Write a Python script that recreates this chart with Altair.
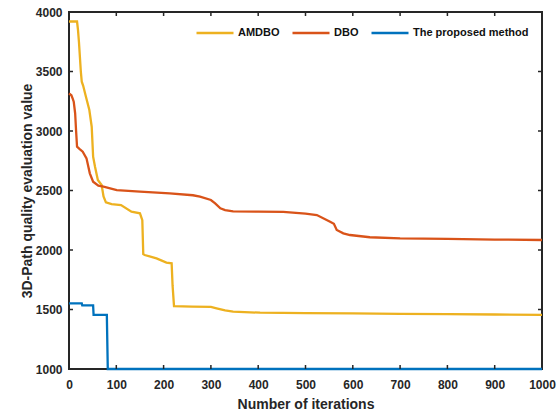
import altair as alt
import pandas as pd

# ---- data ----
amdbo_iter = [0, 17, 19, 21, 25, 27, 30, 35, 43, 48, 51, 55, 61, 69, 73, 78, 90, 110, 132, 150,
              155, 157, 160, 185, 206, 217, 219, 222, 260, 300, 312, 330, 347, 404, 500, 600,
              700, 800, 900, 1000]
amdbo_val = [3920, 3920, 3850, 3750, 3500, 3414, 3380, 3300, 3176, 3036, 2784, 2700, 2588, 2546,
             2450, 2400, 2385, 2378, 2322, 2308, 2250, 1965, 1958, 1930, 1894, 1888, 1700, 1529,
             1525, 1522, 1510, 1492, 1482, 1473, 1470, 1467, 1464, 1461, 1458, 1455]

dbo_iter = [0, 5, 8, 10, 13, 15, 17, 22, 29, 37, 44, 51, 62, 73, 101, 150, 213, 262, 277, 300,
            309, 320, 330, 347, 400, 453, 500, 524, 552, 560, 566, 580, 594, 636, 700, 800, 900, 1000]
dbo_val = [3317, 3300, 3270, 3246, 3149, 3000, 2868, 2850, 2826, 2770, 2644, 2574, 2540, 2532,
           2504, 2490, 2476, 2460, 2448, 2420, 2392, 2350, 2336, 2325, 2322, 2320, 2305, 2294,
           2238, 2220, 2168, 2140, 2126, 2107, 2098, 2094, 2088, 2084]

prop_iter = [0, 27, 28, 51, 52, 80, 82, 1000]
prop_val = [1552, 1552, 1535, 1535, 1454, 1454, 1000, 1000]

series_names = ["AMDBO", "DBO", "The proposed method"]
series_colors = ["#EDB120", "#D95319", "#0072BD"]

x_ticks = [0, 100, 200, 300, 400, 500, 600, 700, 800, 900, 1000]
y_ticks = [1000, 1500, 2000, 2500, 3000, 3500, 4000]

rows = []
for name, its, vals in zip(series_names, [amdbo_iter, dbo_iter, prop_iter],
                           [amdbo_val, dbo_val, prop_val]):
    for order, (i, v) in enumerate(zip(its, vals)):
        rows.append({"series": name, "iter": i, "value": v, "order": order})
df = pd.DataFrame(rows)

W, H = 473, 357
FONT = "Liberation Sans"
AX = "#262626"

xs = alt.Scale(domain=[0, 1000], nice=False)
ys = alt.Scale(domain=[1000, 4000], nice=False)

x_axis = alt.Axis(values=x_ticks, format="d", title="Number of iterations", grid=False,
                  domain=False, ticks=False, labelPadding=10, labelFontSize=12, labelFont=FONT,
                  labelFontWeight="bold", labelColor=AX, titleFont=FONT, titleFontSize=14,
                  titleFontWeight="bold", titleColor=AX, titlePadding=7, labelFlush=False)
y_axis = alt.Axis(values=y_ticks, format="d", title="3D-Path quality evaluation value",
                  grid=False, domain=False, ticks=False, labelPadding=7, labelFontSize=12,
                  labelFont=FONT, labelFontWeight="bold", labelColor=AX, titleFont=FONT,
                  titleFontSize=14, titleFontWeight="bold", titleColor=AX, titlePadding=1,
                  labelFlush=False)

lines = alt.Chart(df).mark_line(strokeWidth=2.3).encode(
    x=alt.X("iter:Q", scale=xs, axis=x_axis),
    y=alt.Y("value:Q", scale=ys, axis=y_axis),
    color=alt.Color("series:N",
                    scale=alt.Scale(domain=series_names, range=series_colors),
                    legend=alt.Legend(title=None, orient="none", direction="horizontal",
                                      legendX=126, legendY=1, symbolType="stroke",
                                      symbolSize=1369, symbolStrokeWidth=2.3,
                                      labelFont=FONT, labelFontSize=11,
                                      labelFontWeight="bold", labelColor="#111111",
                                      labelOffset=3, columnPadding=7, padding=0)),
    order="order:Q",
)

xt = pd.DataFrame({"iter": x_ticks[1:-1]})
yt = pd.DataFrame({"value": y_ticks[1:-1]})
tick_style = dict(color=AX, strokeWidth=1.5)
bx = alt.X("iter:Q", scale=xs, axis=x_axis)
by = alt.Y("value:Q", scale=ys, axis=y_axis)

bottom = alt.Chart(xt).mark_rule(**tick_style).encode(x=bx, y=alt.value(H), y2=alt.value(H - 4))
top = alt.Chart(xt).mark_rule(**tick_style).encode(x=bx, y=alt.value(0), y2=alt.value(4))
left = alt.Chart(yt).mark_rule(**tick_style).encode(y=by, x=alt.value(0), x2=alt.value(4))
right = alt.Chart(yt).mark_rule(**tick_style).encode(y=by, x=alt.value(W), x2=alt.value(W - 4))

chart = alt.layer(lines, bottom, top, left, right).properties(
    width=W, height=H,
    padding={"left": 69, "top": 12, "right": 18, "bottom": 43},
    autosize=alt.AutoSizeParams(type="none"),
    background="white",
).configure_view(stroke=AX, strokeWidth=2)

chart.save("out.html", embed_options={"renderer": "svg", "actions": False})
